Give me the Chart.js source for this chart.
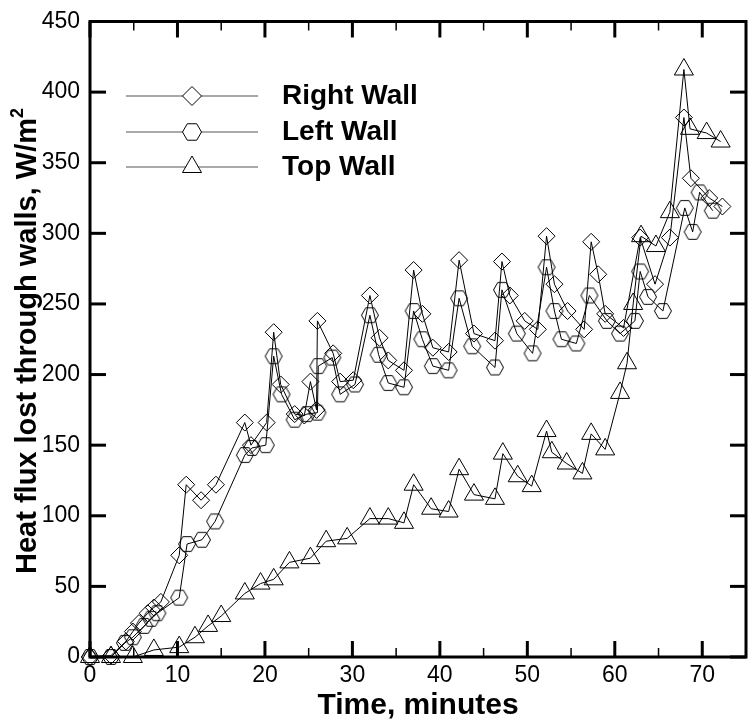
<!DOCTYPE html>
<html>
<head>
<meta charset="utf-8">
<script src="https://cdn.jsdelivr.net/npm/chart.js@4.4.1/dist/chart.umd.min.js"></script>
<style>
  html, body { margin: 0; padding: 0; background: #fff; overflow: hidden; }
  #wrap { width: 750px; height: 723px; overflow: hidden; }
  canvas { display: block; }
</style>
</head>
<body>
<div id="wrap"><canvas id="myChart" width="758" height="723"></canvas></div>
<script>
// values: time in minutes, heat flux in W/m2
var rightTime = [0, 2.4, 4.1, 4.9, 5.6, 6.6, 7.3, 8.1, 10.2, 11.0, 12.7, 14.4, 17.7, 18.4, 20.2, 21.0, 21.8, 23.4, 24.5, 25.2, 25.9, 26.0, 27.8, 28.6, 30.1, 32.0, 33.1, 34.1, 35.9, 37.0, 38.0, 39.2, 41.0, 42.2, 43.9, 46.3, 47.1, 48.0, 49.7, 51.2, 52.2, 53.1, 54.6, 56.5, 57.3, 58.1, 58.9, 61.0, 62.9, 64.6, 66.3, 67.9, 68.7, 70.8, 72.3];
var rightFlux = [0, 1, 11, 18, 24, 31, 35, 39, 72, 122, 111, 122, 166, 150, 166, 230, 193, 172, 171, 195, 175, 238, 215, 195, 196, 256, 226, 210, 203, 274, 243, 219, 216, 281, 229, 224, 280, 256, 238, 232, 298, 264, 245, 232, 294, 271, 243, 233, 297, 264, 297, 382, 339, 325, 319];

var leftTime = [0, 2.4, 4.0, 4.9, 6.2, 7.0, 7.7, 10.2, 11.1, 12.8, 14.3, 17.7, 18.5, 20.1, 21.0, 21.9, 23.4, 24.8, 26.0, 26.1, 27.7, 28.6, 30.3, 32.0, 33.0, 34.1, 35.9, 37.0, 38.0, 39.2, 41.0, 42.2, 43.7, 46.3, 47.1, 48.8, 50.6, 52.2, 53.1, 53.9, 55.6, 57.1, 59.1, 60.6, 62.3, 62.9, 63.8, 65.5, 68.0, 68.9, 69.7, 71.2];
var leftFlux = [0, 0, 10, 14, 22, 27, 31, 42, 80, 83, 96, 143, 148, 150, 213, 186, 168, 172, 173, 206, 212, 186, 193, 242, 214, 194, 191, 245, 225, 206, 203, 254, 220, 205, 260, 229, 215, 276, 245, 225, 222, 256, 238, 229, 238, 273, 255, 245, 318, 301, 329, 316];

var topTime = [0, 2.4, 4.9, 7.3, 10.2, 12.0, 13.5, 15.0, 17.7, 19.5, 21.0, 22.8, 25.2, 27.0, 29.4, 32.0, 34.1, 35.9, 37.0, 39.0, 41.0, 42.2, 43.9, 46.3, 47.2, 48.9, 50.5, 52.2, 52.8, 54.5, 56.3, 57.3, 58.9, 60.6, 61.4, 62.1, 63.0, 64.7, 66.3, 67.9, 68.6, 70.5, 72.1];
var topFlux = [0, 0, 0, 5, 7, 14, 22, 29, 45, 52, 55, 67, 70, 82, 84, 98, 98, 95, 122, 105, 103, 133, 115, 112, 144, 128, 121, 160, 145, 137, 130, 158, 147, 187, 208, 250, 298, 291, 315, 416, 374, 371, 365];

var seriesNames = ['Right Wall', 'Left Wall', 'Top Wall'];
var xTicks = [0, 10, 20, 30, 40, 50, 60, 70];
var xMinorTicks = [5, 15, 25, 35, 45, 55, 65];
var yTicks = [0, 50, 100, 150, 200, 250, 300, 350, 400, 450];

var FONT = "'Liberation Sans', Arial, Helvetica, sans-serif";

function pairs(xs, ys) {
  var out = [];
  for (var i = 0; i < xs.length; i++) out.push({ x: xs[i], y: ys[i] });
  return out;
}

// flat top/bottom hexagon path
function hexPath(ctx, x, y, R) {
  ctx.beginPath();
  for (var i = 0; i < 6; i++) {
    var a = i * Math.PI / 3;
    var px = x + R * Math.cos(a), py = y + R * Math.sin(a);
    if (i === 0) ctx.moveTo(px, py); else ctx.lineTo(px, py);
  }
  ctx.closePath();
}

function hexImage(R) {
  var c = document.createElement('canvas');
  var s = Math.ceil(2 * R + 3);
  c.width = s; c.height = s;
  var g = c.getContext('2d');
  g.strokeStyle = '#000';
  g.lineWidth = 1;
  hexPath(g, s / 2, s / 2, R);
  g.stroke();
  return c;
}

function drawMarker(ctx, kind, x, y) {
  ctx.beginPath();
  if (kind === 'diamond') {
    var r = 9.5;
    ctx.moveTo(x - r, y); ctx.lineTo(x, y - r); ctx.lineTo(x + r, y); ctx.lineTo(x, y + r);
    ctx.closePath();
  } else if (kind === 'hex') {
    hexPath(ctx, x, y, 9.5);
  } else {
    var t = 11;
    for (var i = 0; i < 3; i++) {
      var a = i * 2 * Math.PI / 3;
      var px = x + Math.sin(a) * t, py = y - Math.cos(a) * t;
      if (i === 0) ctx.moveTo(px, py); else ctx.lineTo(px, py);
    }
    ctx.closePath();
  }
  ctx.fillStyle = '#fff';
  ctx.fill();
  ctx.stroke();
}

var framePlugin = {
  id: 'frame',
  beforeDatasetsDraw: function (chart) {
    var ctx = chart.ctx, a = chart.chartArea, xs = chart.scales.x, ys = chart.scales.y;
    function seg(x1, y1, x2, y2) { ctx.beginPath(); ctx.moveTo(x1, y1); ctx.lineTo(x2, y2); ctx.stroke(); }
    ctx.save();
    ctx.strokeStyle = '#000';
    ctx.lineWidth = 1.5;
    xMinorTicks.forEach(function (v) {
      var px = xs.getPixelForValue(v);
      seg(px, a.bottom, px, a.bottom - 9);
      seg(px, a.top, px, a.top + 9);
    });
    ctx.lineWidth = 3;
    xTicks.forEach(function (v) {
      var px = xs.getPixelForValue(v);
      seg(px, a.bottom, px, a.bottom - 16);
      seg(px, a.top, px, a.top + 16);
    });
    yTicks.forEach(function (v) {
      var py = ys.getPixelForValue(v);
      seg(a.left, py, a.left + 16, py);
      seg(a.right, py, a.right - 16, py);
    });
    ctx.strokeRect(a.left, a.top, a.right - a.left, a.bottom - a.top);
    ctx.restore();
  },
  afterDraw: function (chart) {
    var ctx = chart.ctx, a = chart.chartArea;
    ctx.save();
    ctx.fillStyle = '#000';

    // x axis title
    ctx.font = 'bold 30px ' + FONT;
    ctx.textAlign = 'center';
    ctx.textBaseline = 'alphabetic';
    ctx.fillText('Time, minutes', (a.left + a.right) / 2, 714);

    // y axis title with superscript
    ctx.save();
    ctx.translate(28, 341);
    ctx.rotate(-Math.PI / 2);
    var main = 'Heat flux lost through walls, W/m';
    ctx.font = 'bold 29px ' + FONT;
    var wMain = ctx.measureText(main).width;
    ctx.font = 'bold 18px ' + FONT;
    var wSup = ctx.measureText('2').width;
    var x0 = -(wMain + wSup) / 2;
    ctx.textAlign = 'left';
    ctx.textBaseline = 'middle';
    ctx.font = 'bold 29px ' + FONT;
    ctx.fillText(main, x0, 0);
    ctx.font = 'bold 18px ' + FONT;
    ctx.fillText('2', x0 + wMain, -10);
    ctx.restore();

    // legend
    var kinds = ['diamond', 'hex', 'tri'];
    var rows = [96, 132, 167];
    for (var i = 0; i < 3; i++) {
      ctx.strokeStyle = '#555';
      ctx.lineWidth = 1.2;
      ctx.beginPath(); ctx.moveTo(126, rows[i]); ctx.lineTo(258, rows[i]); ctx.stroke();
      ctx.strokeStyle = '#000';
      ctx.lineWidth = 1;
      drawMarker(ctx, kinds[i], 192, rows[i]);
      ctx.fillStyle = '#000';
      ctx.font = 'bold 28px ' + FONT;
      ctx.textAlign = 'left';
      ctx.textBaseline = 'middle';
      ctx.fillText(seriesNames[i], 282, rows[i]);
    }
    ctx.restore();
  }
};

var lineStyle = {
  borderColor: '#000',
  borderWidth: 1,
  backgroundColor: 'transparent',
  pointBorderColor: '#000',
  pointBackgroundColor: 'transparent',
  pointBorderWidth: 1,
  tension: 0,
  clip: false
};

var ctx = document.getElementById('myChart').getContext('2d');
var myChart = new Chart(ctx, {
  type: 'line',
  data: {
    datasets: [
      Object.assign({ label: seriesNames[0], data: pairs(rightTime, rightFlux), pointStyle: 'rectRot', pointRadius: 8.5 }, lineStyle),
      Object.assign({ label: seriesNames[1], data: pairs(leftTime, leftFlux), pointStyle: hexImage(8.5), pointRadius: 8.5 }, lineStyle),
      Object.assign({ label: seriesNames[2], data: pairs(topTime, topFlux), pointStyle: 'triangle', pointRadius: 11 }, lineStyle)
    ]
  },
  options: {
    responsive: false,
    animation: false,
    devicePixelRatio: 1,
    layout: { padding: { top: 15, right: 3, left: 0, bottom: 0 } },
    plugins: { legend: { display: false }, tooltip: { enabled: false } },
    scales: {
      x: {
        type: 'linear', min: 0, max: 75,
        grid: { display: false, drawTicks: false },
        border: { display: false },
        ticks: {
          stepSize: 10, includeBounds: false, padding: 7, color: '#000',
          maxRotation: 0, autoSkip: false,
          font: { family: FONT, size: 23, lineHeight: 1 }
        },
        afterFit: function (s) { s.height = 66; }
      },
      y: {
        type: 'linear', min: 0, max: 450,
        grid: { display: false, drawTicks: false },
        border: { display: false },
        ticks: {
          stepSize: 50, padding: 10, color: '#000',
          font: { family: FONT, size: 23, lineHeight: 1 }
        },
        afterFit: function (s) { s.width = 90; }
      }
    }
  },
  plugins: [framePlugin]
});
</script>
</body>
</html>
